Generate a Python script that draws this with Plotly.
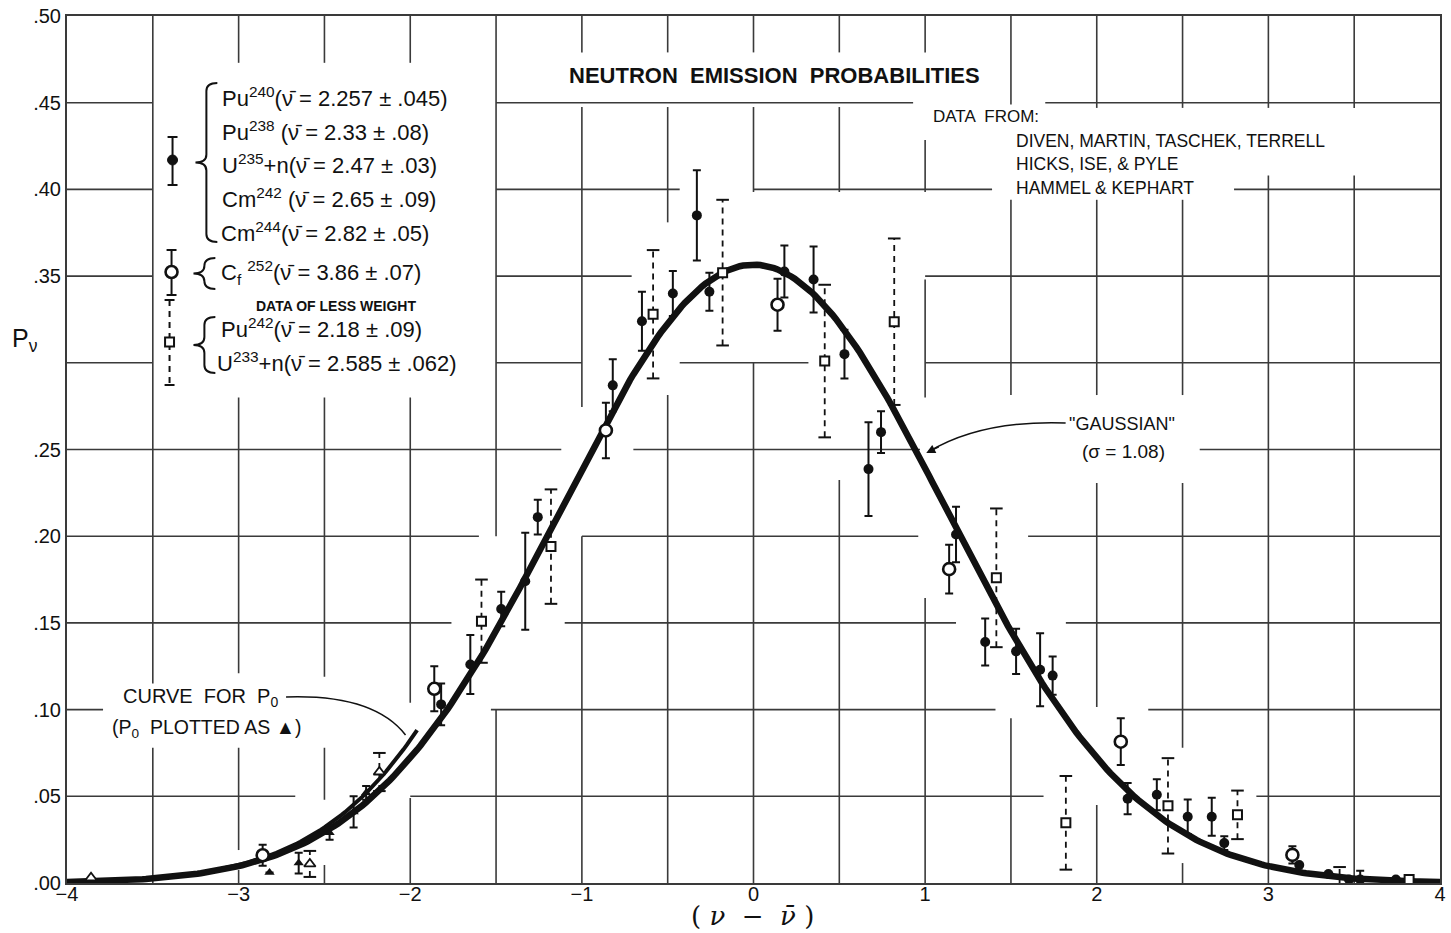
import math
import plotly.graph_objects as go

# ---------------------------------------------------------------------------
# Data: P(nu) versus (nu - nubar)
# ---------------------------------------------------------------------------
# Pu240, Pu238, U235+n, Cm242, Cm244 (filled circles, nu >= 1)
FILLED_X = [-1.82, -1.65, -1.47, -1.33, -1.257, -0.82, -0.65, -0.47, -0.33, -0.257,
            0.18, 0.35, 0.53, 0.67, 0.743, 1.18, 1.35, 1.53, 1.67, 1.743,
            2.18, 2.35, 2.53, 2.67, 2.743, 3.18, 3.35, 3.47, 3.535, 3.743]
FILLED_Y = [0.103, 0.126, 0.158, 0.174, 0.211, 0.287, 0.324, 0.340, 0.385, 0.341,
            0.3526, 0.348, 0.305, 0.2387, 0.260, 0.201, 0.139, 0.1336, 0.123, 0.1196,
            0.0486, 0.0509, 0.0382, 0.0382, 0.023, 0.0104, 0.0052, 0.002, 0.002, 0.002]
FILLED_ERR = [0.012, 0.017, 0.010, 0.028, 0.010, 0.015, 0.017, 0.013, 0.026, 0.011,
              0.015, 0.019, 0.014, 0.027, 0.012, 0.016, 0.0135, 0.013, 0.021, 0.011,
              0.009, 0.009, 0.010, 0.011, 0.004, 0.0, 0.0, 0.0, 0.005, 0.0]

# Cf252 (open circles)
CF_X = [-2.86, -1.86, -0.86, 0.14, 1.14, 2.14, 3.14]
CF_Y = [0.016, 0.112, 0.261, 0.3335, 0.181, 0.0815, 0.0162]
CF_ERR = [0.006, 0.013, 0.016, 0.015, 0.014, 0.0135, 0.005]

# Pu242, U233+n (open squares, data of less weight)
SQ_X = [-1.585, -1.18, -0.585, -0.18, 0.415, 0.82, 1.415, 1.82, 2.415, 2.82, 3.415, 3.82]
SQ_Y = [0.151, 0.194, 0.328, 0.352, 0.301, 0.3237, 0.176, 0.0347, 0.0445, 0.0393, -0.0058, 0.002]
SQ_ERR = [0.024, 0.033, 0.037, 0.042, 0.044, 0.048, 0.040, 0.027, 0.0275, 0.014, 0.015, 0.0]

# P0 values (triangles)
P0_FILLED_X = [-2.82, -2.65, -2.47, -2.33, -2.257]
P0_FILLED_Y = [0.006, 0.0115, 0.029, 0.041, 0.052]
P0_FILLED_ERR = [0.0, 0.006, 0.004, 0.009, 0.004]
P0_CF_X = [-3.86]
P0_CF_Y = [0.003]
P0_SQ_X = [-2.585, -2.18]
P0_SQ_Y = [0.011, 0.064]
P0_SQ_ERR = [0.0075, 0.011]

SIGMA = 1.08  # width of the "Gaussian"

X_TICKS = [-4, -3, -2, -1, 0, 1, 2, 3, 4]
Y_TICKS = [0.0, 0.05, 0.10, 0.15, 0.20, 0.25, 0.35, 0.40, 0.45, 0.50]
Y_TICK_TEXT = [".00", ".05", ".10", ".15", ".20", ".25", ".35", ".40", ".45", ".50"]

LEGEND_LINES = [
    "Pu<sup>240</sup>(ν̄ = 2.257 ± .045)",
    "Pu<sup>238</sup> (ν̄ = 2.33 ± .08)",
    "U<sup>235</sup>+n(ν̄ = 2.47 ± .03)",
    "Cm<sup>242</sup> (ν̄ = 2.65 ± .09)",
    "Cm<sup>244</sup>(ν̄ = 2.82 ± .05)",
    "C<sub>f</sub> <sup>252</sup>(ν̄ = 3.86 ± .07)",
    "Pu<sup>242</sup>(ν̄ = 2.18 ± .09)",
    "U<sup>233</sup>+n(ν̄ = 2.585 ± .062)",
]
SOURCES = ["DIVEN, MARTIN, TASCHEK, TERRELL", "HICKS, ISE, & PYLE", "HAMMEL & KEPHART"]

# ---------------------------------------------------------------------------
# Curves: Terrell's Gaussian (integrated over unit bins) and cumulative P0
# ---------------------------------------------------------------------------
def phi(z):
    return 0.5 * (1.0 + math.erf(z / math.sqrt(2.0)))

curve_x = [i / 50.0 for i in range(-200, 201)]
curve_y = [phi((x + 0.5) / SIGMA) - phi((x - 0.5) / SIGMA) for x in curve_x]
p0_x = [i / 50.0 for i in range(-200, -97)]
p0_y = [phi((x + 0.5) / SIGMA) for x in p0_x]

# ---------------------------------------------------------------------------
# Page geometry helpers (pixel -> paper)
# ---------------------------------------------------------------------------
W, H = 1451, 933
ML, MR, MT, MB = 67, 5, 16, 50
PW, PH = W - ML - MR, H - MT - MB

def fx(p):
    return (p - ML) / PW

def fy(p):
    return (H - MB - p) / PH

FONT = "Liberation Sans, Arial, sans-serif"
INK = "#111111"
GRID = "#3a3a3a"

fig = go.Figure()

fig.add_trace(go.Scatter(x=p0_x, y=p0_y, mode="lines",
                         line=dict(color=INK, width=4), hoverinfo="skip"))
fig.add_trace(go.Scatter(x=curve_x, y=curve_y, mode="lines",
                         line=dict(color=INK, width=6.5), hoverinfo="skip"))


def dashed_bars(xs, ys, errs):
    bx, by, cx, cy = [], [], [], []
    for x, y, e in zip(xs, ys, errs):
        if e > 0:
            bx += [x, x, None]
            by += [y - e, y + e, None]
            cx += [x, x]
            cy += [y - e, y + e]
    return bx, by, cx, cy


# dashed error bars for the less-weighted data
bx, by, cx, cy = dashed_bars(SQ_X + P0_SQ_X, SQ_Y + P0_SQ_Y, SQ_ERR + P0_SQ_ERR)
fig.add_trace(go.Scatter(x=bx, y=by, mode="lines", cliponaxis=False,
                         line=dict(color=INK, width=1.8, dash="6px,5px"), hoverinfo="skip"))
fig.add_trace(go.Scatter(x=cx, y=cy, mode="markers", cliponaxis=False,
                         marker=dict(symbol="line-ew", size=9, line=dict(color=INK, width=2)),
                         hoverinfo="skip"))

solid_err = lambda arr: dict(type="data", array=arr, visible=True, color=INK, thickness=2, width=4)

fig.add_trace(go.Scatter(x=P0_FILLED_X, y=P0_FILLED_Y, mode="markers",
                         error_y=solid_err(P0_FILLED_ERR),
                         marker=dict(symbol="triangle-up", size=9, color=INK)))
fig.add_trace(go.Scatter(x=P0_CF_X + P0_SQ_X, y=P0_CF_Y + P0_SQ_Y, mode="markers",
                         marker=dict(symbol="triangle-up", size=10, color="white",
                                     line=dict(color=INK, width=1.8))))
fig.add_trace(go.Scatter(x=FILLED_X, y=FILLED_Y, mode="markers",
                         error_y=solid_err(FILLED_ERR),
                         marker=dict(symbol="circle", size=10, color=INK)))
fig.add_trace(go.Scatter(x=CF_X, y=CF_Y, mode="markers",
                         error_y=solid_err(CF_ERR),
                         marker=dict(symbol="circle", size=12, color="white",
                                     line=dict(color=INK, width=2.6))))
fig.add_trace(go.Scatter(x=SQ_X, y=SQ_Y, mode="markers", cliponaxis=False,
                         marker=dict(symbol="square", size=9, color="white",
                                     line=dict(color=INK, width=2))))

# ---------------------------------------------------------------------------
# Hand-drafted grid: lines broken around labels and the curve
# ---------------------------------------------------------------------------
H_GRID = {
    0.45: [(-4, -3.5), (-1.5, 0.93), (1.7, 4)],
    0.40: [(-4, -3.5), (-1.5, -0.43), (0.0, 1.39), (2.8, 4)],
    0.35: [(-4, -3.5), (-1.5, -0.71), (1.0, 4)],
    0.30: [(-4, -3.5), (-1.5, -1.0), (-0.43, 0.32), (1.0, 4)],
    0.25: [(-4, -1.12), (-0.7, 0.97), (2.6, 4)],
    0.20: [(-4, -1.6), (-1.0, 0.96), (1.6, 4)],
    0.15: [(-4, -1.76), (-1.1, 1.18), (1.82, 4)],
    0.10: [(-4, -3.79), (-1.53, 1.41), (2.3, 4)],
    0.05: [(-4, -2.67), (-2.0, 1.69), (2.93, 4)],
}
V_GRID = {
    -3.5: [(0.115, 0.5), (0, 0.078)],
    -3.0: [(0.473, 0.5), (0.121, 0.28), (0.019, 0.078), (0, 0.0075)],
    -2.5: [(0.473, 0.5), (0.119, 0.28), (0.048, 0.078), (0, 0.0104)],
    -2.0: [(0.473, 0.5), (0.104, 0.28), (0, 0.049)],
    -1.5: [(0.2, 0.5), (0, 0.1)],
    -1.0: [(0.479, 0.5), (0.2745, 0.4475), (0, 0.2)],
    -0.5: [(0.479, 0.5), (0.381, 0.4475), (0, 0.2814)],
    0.0: [(0.479, 0.5), (0.3985, 0.4475), (0, 0.30)],
    0.5: [(0.479, 0.5), (0.3985, 0.4475), (0, 0.2324)],
    1.0: [(0.479, 0.5), (0.3985, 0.4285), (0.28, 0.348), (0, 0.1644)],
    1.5: [(0.449, 0.5), (0.2814, 0.394), (0, 0.095)],
    2.0: [(0.447, 0.5), (0.2814, 0.394), (0.1015, 0.2307), (0, 0.045)],
    2.5: [(0.447, 0.5), (0.2814, 0.394), (0.078, 0.2307), (0, 0.0115)],
    3.0: [(0.447, 0.5), (0, 0.408)],
    3.5: [(0.447, 0.5), (0, 0.408)],
}
shapes = []
for yv, segs in H_GRID.items():
    for a, b in segs:
        shapes.append(dict(type="line", xref="x", yref="y", x0=a, x1=b, y0=yv, y1=yv,
                           layer="below", line=dict(color=GRID, width=1.6)))
for xv, segs in V_GRID.items():
    for a, b in segs:
        shapes.append(dict(type="line", xref="x", yref="y", x0=xv, x1=xv, y0=a, y1=b,
                           layer="below", line=dict(color=GRID, width=1.6)))


def pline(x0, y0, x1, y1, width=2, dash=None):
    ln = dict(color=INK, width=width)
    if dash:
        ln["dash"] = dash
    return dict(type="line", xref="paper", yref="paper",
                x0=fx(x0), y0=fy(y0), x1=fx(x1), y1=fy(y1), line=ln)


def brace(xt, top, bot, w=22):
    mid = (top + bot) / 2.0
    xm = xt + w / 2.0
    xr = xt + w
    r = min(8.0, (bot - top) / 4.0)
    pts = [
        ("M", [(xr, top)]),
        ("Q", [(xm, top), (xm, top + r)]),
        ("L", [(xm, mid - r)]),
        ("Q", [(xm, mid), (xt, mid)]),
        ("Q", [(xm, mid), (xm, mid + r)]),
        ("L", [(xm, bot - r)]),
        ("Q", [(xm, bot), (xr, bot)]),
    ]
    path = " ".join(cmd + " " + " ".join(f"{fx(a):.5f},{fy(b):.5f}" for a, b in p) for cmd, p in pts)
    return dict(type="path", xref="paper", yref="paper", path=path,
                line=dict(color=INK, width=2))


def key_bar(xc, top, bot, dash=None):
    out = [pline(xc, top, xc, bot, 2, dash)]
    out.append(pline(xc - 5, top, xc + 5, top, 2))
    out.append(pline(xc - 5, bot, xc + 5, bot, 2))
    return out


# legend keys
shapes += key_bar(173, 137, 185)
shapes.append(dict(type="circle", xref="paper", yref="paper", x0=fx(168), x1=fx(178),
                   y0=fy(165), y1=fy(155), fillcolor=INK, line=dict(color=INK, width=1)))
shapes += key_bar(172, 250, 295)
shapes.append(dict(type="circle", xref="paper", yref="paper", x0=fx(166), x1=fx(178),
                   y0=fy(278), y1=fy(266), fillcolor="white", line=dict(color=INK, width=2.6)))
shapes += key_bar(170, 300, 385, dash="6px,5px")
shapes.append(dict(type="rect", xref="paper", yref="paper", x0=fx(165.5), x1=fx(174.5),
                   y0=fy(346.5), y1=fy(337.5), fillcolor="white", line=dict(color=INK, width=2)))
shapes.append(brace(196, 83, 242))
shapes.append(brace(194, 258, 289))
shapes.append(brace(194, 317, 373))


def curve_path(p0, c, p1):
    return dict(type="path", xref="paper", yref="paper",
                path=f"M {fx(p0[0]):.5f},{fy(p0[1]):.5f} Q {fx(c[0]):.5f},{fy(c[1]):.5f} {fx(p1[0]):.5f},{fy(p1[1]):.5f}",
                line=dict(color=INK, width=1.5))


shapes.append(curve_path((1070, 423), (985, 420), (932, 452)))
shapes.append(curve_path((287, 697), (375, 694), (407, 735)))

annotations = []


def text(x, y, s, size, anchor="left", bold=False, family=FONT):
    if bold:
        s = "<b>" + s + "</b>"
    annotations.append(dict(xref="paper", yref="paper", x=fx(x), y=fy(y), text=s,
                            showarrow=False, xanchor=anchor, yanchor="middle",
                            font=dict(family=family, size=size, color=INK)))


legend_y = [97, 131, 164, 198, 232, 272, 328, 362]
legend_x = [221, 221, 221, 221, 220, 220, 220, 216]
for s, xx, yy in zip(LEGEND_LINES, legend_x, legend_y):
    text(xx, yy, s, 22)
text(337, 306, "DATA OF LESS WEIGHT", 14, anchor="center", bold=True)

text(778, 75, "NEUTRON  EMISSION  PROBABILITIES", 22, anchor="center", bold=True)
text(935, 117, "DATA  FROM:", 17)
for s, yy in zip(SOURCES, [141, 164, 188]):
    text(1018, yy, s, 17.5)

text(1127, 424, "\"GAUSSIAN\"", 18, anchor="center")
text(1128, 451, "(σ = 1.08)", 19, anchor="center")
text(121, 697, "CURVE  FOR  P<sub>0</sub>", 20)
text(110, 728, "(P<sub>0</sub>  PLOTTED AS ▲)", 19.5)

text(10, 340, "P<sub>ν</sub>", 25)
text(755, 916, "( <i>ν</i>  −  <i>ν̄</i> )", 26, anchor="center", family="DejaVu Serif, serif")

# small arrowhead at the end of the "GAUSSIAN" leader
annotations.append(dict(xref="paper", yref="paper", x=fx(930), y=fy(453), ax=14, ay=-7,
                        text="", showarrow=True, arrowhead=2, arrowsize=1.2,
                        arrowwidth=1.5, arrowcolor=INK))

fig.update_layout(
    width=W, height=H,
    margin=dict(l=ML, r=MR, t=MT, b=MB, pad=0),
    paper_bgcolor="white", plot_bgcolor="white",
    showlegend=False,
    shapes=shapes, annotations=annotations,
    font=dict(family=FONT, color=INK),
    xaxis=dict(range=[-4, 4], tickvals=X_TICKS,
               ticktext=[("−" + str(-t)) if t < 0 else str(t) for t in X_TICKS],
               showgrid=False, zeroline=False, showline=True, mirror=True,
               linecolor=GRID, linewidth=2, ticks="", ticklabelstandoff=-8,
               tickfont=dict(size=20, color=INK)),
    yaxis=dict(range=[0, 0.5], tickvals=Y_TICKS, ticktext=Y_TICK_TEXT,
               showgrid=False, zeroline=False, showline=True, mirror=True,
               linecolor=GRID, linewidth=2, ticks="", tickfont=dict(size=20, color=INK)),
)

fig.write_html("out.html")
